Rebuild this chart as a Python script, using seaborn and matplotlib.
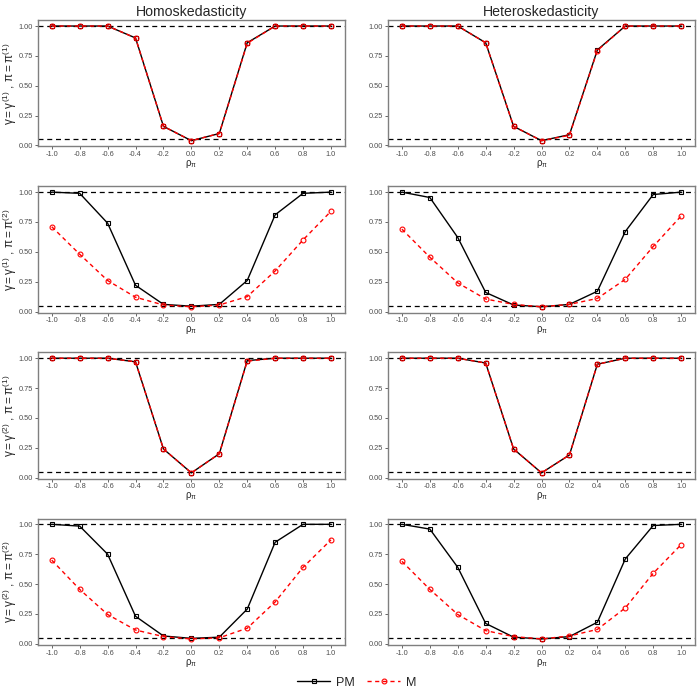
import numpy as np
import pandas as pd
import matplotlib
matplotlib.use("Agg")
import matplotlib.pyplot as plt
import seaborn as sns
from matplotlib.lines import Line2D

# valores de rho_pi
rho = [-1.0, -0.8, -0.6, -0.4, -0.2, 0.0, 0.2, 0.4, 0.6, 0.8, 1.0]

columnas = ["Homoskedasticity", "Heteroskedasticity"]
etiquetas_y = [
    r"$\gamma = \gamma^{(1)}$ , $\pi = \pi^{(1)}$",
    r"$\gamma = \gamma^{(1)}$ , $\pi = \pi^{(2)}$",
    r"$\gamma = \gamma^{(2)}$ , $\pi = \pi^{(1)}$",
    r"$\gamma = \gamma^{(2)}$ , $\pi = \pi^{(2)}$",
]

# fila 1
pm_homo_1 = [1.0, 1.0, 1.0, 0.90, 0.16, 0.04, 0.10, 0.86, 1.0, 1.0, 1.0]
m_homo_1 = [1.0, 1.0, 1.0, 0.90, 0.16, 0.04, 0.10, 0.855, 1.0, 1.0, 1.0]
pm_het_1 = [1.0, 1.0, 1.0, 0.86, 0.16, 0.04, 0.09, 0.80, 1.0, 1.0, 1.0]
m_het_1 = [1.0, 1.0, 1.0, 0.86, 0.16, 0.04, 0.085, 0.795, 1.0, 1.0, 1.0]
# fila 2
pm_homo_2 = [1.0, 0.99, 0.74, 0.22, 0.06, 0.045, 0.06, 0.26, 0.81, 0.99, 1.0]
m_homo_2 = [0.71, 0.48, 0.26, 0.12, 0.055, 0.04, 0.055, 0.125, 0.34, 0.60, 0.84]
pm_het_2 = [1.0, 0.955, 0.62, 0.16, 0.055, 0.04, 0.06, 0.17, 0.67, 0.98, 1.0]
m_het_2 = [0.69, 0.455, 0.24, 0.105, 0.06, 0.04, 0.06, 0.11, 0.27, 0.545, 0.80]
# fila 3
pm_homo_3 = [1.0, 1.0, 1.0, 0.97, 0.24, 0.04, 0.20, 0.98, 1.0, 1.0, 1.0]
m_homo_3 = [1.0, 1.0, 1.0, 0.97, 0.24, 0.04, 0.20, 0.975, 1.0, 1.0, 1.0]
pm_het_3 = [1.0, 1.0, 1.0, 0.96, 0.24, 0.04, 0.19, 0.95, 1.0, 1.0, 1.0]
m_het_3 = [1.0, 1.0, 1.0, 0.96, 0.24, 0.04, 0.19, 0.95, 1.0, 1.0, 1.0]
# fila 4
pm_homo_4 = [1.0, 0.985, 0.75, 0.23, 0.065, 0.045, 0.055, 0.29, 0.85, 1.0, 1.0]
m_homo_4 = [0.70, 0.455, 0.245, 0.115, 0.06, 0.04, 0.05, 0.13, 0.35, 0.64, 0.87]
pm_het_4 = [1.0, 0.96, 0.64, 0.17, 0.055, 0.04, 0.06, 0.18, 0.71, 0.99, 1.0]
m_het_4 = [0.69, 0.455, 0.245, 0.11, 0.06, 0.04, 0.065, 0.12, 0.30, 0.59, 0.83]

series = [
    [(pm_homo_1, m_homo_1), (pm_het_1, m_het_1)],
    [(pm_homo_2, m_homo_2), (pm_het_2, m_het_2)],
    [(pm_homo_3, m_homo_3), (pm_het_3, m_het_3)],
    [(pm_homo_4, m_homo_4), (pm_het_4, m_het_4)],
]

lineas_ref = [0.05, 1.0]
ticks_y = [0.0, 0.25, 0.5, 0.75, 1.0]

sns.set_style("white")
plt.rcParams["font.family"] = ["Liberation Sans", "DejaVu Sans"]
plt.rcParams["mathtext.fontset"] = "custom"
plt.rcParams["mathtext.rm"] = "Liberation Sans"
plt.rcParams["mathtext.it"] = "Liberation Sans"
plt.rcParams["mathtext.bf"] = "Liberation Sans:bold"

fig, axes = plt.subplots(4, 2, figsize=(7, 7), dpi=100)
fig.subplots_adjust(left=0.054, right=0.993, top=0.971, bottom=0.079,
                    wspace=0.14, hspace=0.317)

gris = "#4d4d4d"
for i in range(4):
    for j in range(2):
        ax = axes[i, j]
        pm, m = series[i][j]
        for y in lineas_ref:
            ax.axhline(y, color="black", linestyle=(0, (4, 3)), linewidth=0.9, zorder=1)
        sns.lineplot(x=rho, y=pm, ax=ax, color="black", linewidth=1.0,
                     marker="s", markersize=3.5, markerfacecolor="none",
                     markeredgecolor="black", markeredgewidth=0.8, zorder=2)
        sns.lineplot(x=rho, y=m, ax=ax, color="red", linewidth=1.0,
                     linestyle=(0, (3, 2.5)), marker="o", markersize=3.5,
                     markerfacecolor="none", markeredgecolor="red",
                     markeredgewidth=0.8, zorder=3)
        ax.set_xlim(-1.1, 1.1)
        ax.set_ylim(-0.008, 1.048)
        ax.set_xticks(rho)
        ax.set_xticklabels([f"{v:.1f}" for v in rho])
        ax.set_yticks(ticks_y)
        ax.set_yticklabels([f"{v:.2f}" for v in ticks_y])
        ax.tick_params(axis="both", labelsize=5.3, colors=gris, length=2,
                       width=0.6, pad=1.5, direction="out", bottom=True, left=True)
        ax.set_xlabel(r"$\rho_\pi$", fontsize=7, labelpad=0)
        if j == 0:
            ax.set_ylabel(etiquetas_y[i], fontsize=8.5)
            ax.yaxis.set_label_coords(-0.06, 0.5)
        else:
            ax.set_ylabel("")
        for s in ax.spines.values():
            s.set_color("#7f7f7f")
            s.set_linewidth(1.0)
        ax.grid(False)
        if i == 0:
            ax.set_title(columnas[j], fontsize=10.2, pad=3)

handles = [
    Line2D([], [], color="black", linewidth=1.0, marker="s", markersize=3.5,
           markerfacecolor="none", markeredgewidth=0.8),
    Line2D([], [], color="red", linewidth=1.0, linestyle=(0, (3, 2.5)), marker="o",
           markersize=3.5, markerfacecolor="none", markeredgewidth=0.8),
]
fig.legend(handles, ["PM", "M"], loc="lower center", ncol=2, frameon=False,
           fontsize=9, bbox_to_anchor=(0.51, 0.0), handlelength=2.6,
           columnspacing=1.0, handletextpad=0.5)

fig.savefig("out.png", dpi=100)
